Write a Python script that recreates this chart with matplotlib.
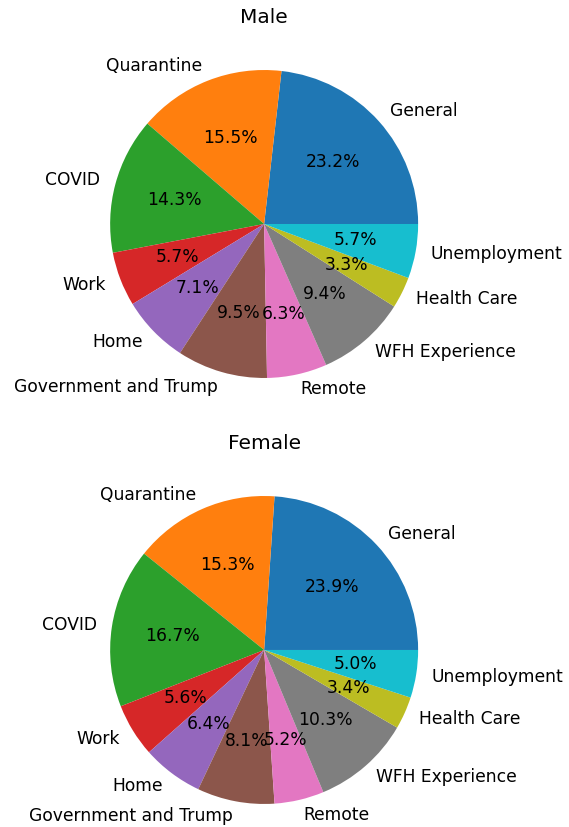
import matplotlib
matplotlib.use('Agg')
import matplotlib.pyplot as plt


categories = ['General', 'Quarantine', 'COVID', 'Work', 'Home', 'Government and Trump',
              'Remote', 'WFH Experience', 'Health Care', 'Unemployment']
male_share = [23.2, 15.5, 14.3, 5.7, 7.1, 9.5, 6.3, 9.4, 3.3, 5.7]
female_share = [23.9, 15.3, 16.7, 5.6, 6.4, 8.1, 5.2, 10.3, 3.4, 5.0]

fig = plt.figure(figsize=(5.69, 8.27), dpi=100)

# axes boxes placed so the pies land where they are in the reference
ax_male = fig.add_axes([0.1257, 0.4964, 0.677, 0.4655])
ax_female = fig.add_axes([0.1257, -0.0187, 0.677, 0.4655])

for ax, values, title in [(ax_male, male_share, 'Male'), (ax_female, female_share, 'Female')]:
    ax.pie(values, labels=categories, autopct='%1.1f%%', textprops={'fontsize': 12.3})
    ax.set_title(title, fontsize=14.5)

plt.savefig('out.png', dpi=100)
